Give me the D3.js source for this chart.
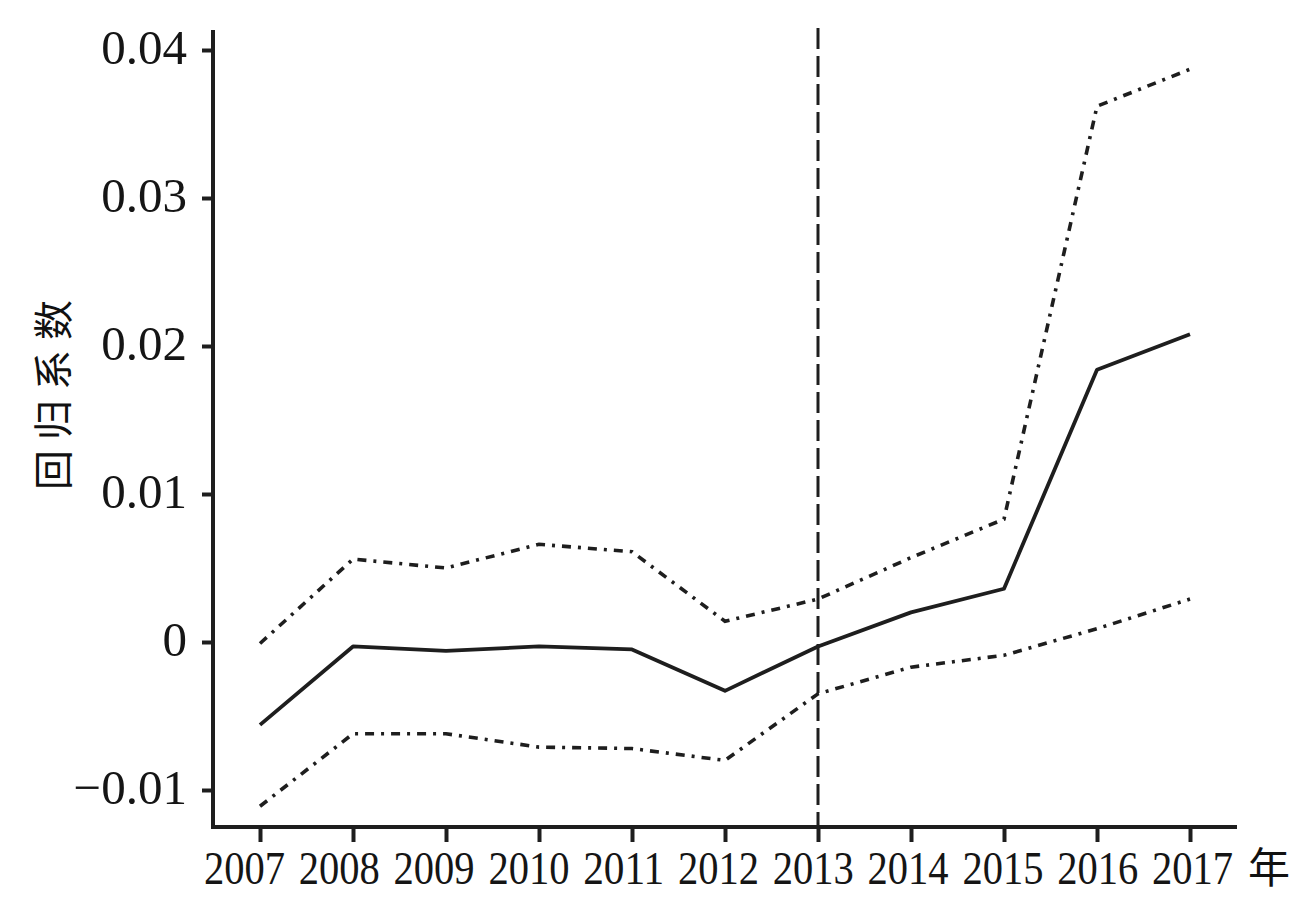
<!DOCTYPE html>
<html><head><meta charset="utf-8">
<script src="https://cdn.jsdelivr.net/npm/d3@7"></script>
<style>
html,body{margin:0;padding:0;background:#fff;}
svg{display:block;}
</style></head>
<body>
<svg id="chart" width="1302" height="907"></svg>
<script>
const years = [2007,2008,2009,2010,2011,2012,2013,2014,2015,2016,2017];
const coef  = [-0.0056,-0.0003,-0.0006,-0.0003,-0.0005,-0.0033,-0.0003,0.0020,0.0036,0.0184,0.0208];
const upper = [-0.0001,0.0056,0.0050,0.0066,0.0061,0.0014,0.0029,0.0057,0.0083,0.0362,0.0387];
const lower = [-0.0111,-0.0062,-0.0062,-0.0071,-0.0072,-0.0080,-0.0035,-0.0017,-0.0009,0.0009,0.0029];
const yTicks = [-0.01,0,0.01,0.02,0.03,0.04];
const yTickLabels = ["\u22120.01","0","0.01","0.02","0.03","0.04"];
const markYear = 2013;
const yLabel = "回归系数";
const xUnit = "年";

(function(){
const svg = d3.select("#chart");
const ink = "#1e1e1e";
const mLeft = 213, mBottom = 827, mTop = 30, mRight = 1237;

const x = d3.scaleLinear().domain([2007,2017]).range([260,1190]);
// tick labels in the original are spread slightly wider than the ticks
const xLab = d3.scaleLinear().domain([2007,2017]).range([244,1192]);
const y = d3.scaleLinear().domain([-0.01,0.04]).range([790,50]);

// axes
const yAxis = d3.axisLeft(y).tickValues(yTicks)
  .tickFormat((d,i)=>yTickLabels[i]).tickSize(11).tickPadding(15);
const gy = svg.append("g").attr("transform",`translate(${mLeft},0)`).call(yAxis);
gy.select(".domain").remove();
gy.selectAll(".tick line").attr("stroke",ink).attr("stroke-width",4);
gy.selectAll(".tick text").attr("fill","#151515")
  .style("font-family","'Liberation Serif','DejaVu Serif',serif")
  .style("font-size","49px").attr("dy","0.27em");

const xAxis = d3.axisBottom(x).tickValues(years).tickFormat(d3.format("d"))
  .tickSize(15).tickPadding(6);
const gx = svg.append("g").attr("transform",`translate(0,${mBottom})`).call(xAxis);
gx.select(".domain").remove();
gx.selectAll(".tick line").attr("stroke",ink).attr("stroke-width",4);
gx.selectAll(".tick text").attr("fill","#151515")
  .style("font-family","'Liberation Serif','DejaVu Serif',serif")
  .style("font-size","46px").attr("y",57).attr("dy","0")
  .attr("x",d=>xLab(d)-x(d))
  .attr("textLength",81).attr("lengthAdjust","spacingAndGlyphs");

// axis lines
svg.append("line").attr("x1",mLeft).attr("x2",mLeft).attr("y1",mTop).attr("y2",mBottom+2)
  .attr("stroke",ink).attr("stroke-width",4);
svg.append("line").attr("x1",mLeft-2).attr("x2",mRight).attr("y1",mBottom).attr("y2",mBottom)
  .attr("stroke",ink).attr("stroke-width",4);

// vertical dashed line
svg.append("line").attr("x1",x(markYear)).attr("x2",x(markYear))
  .attr("y1",mTop-2).attr("y2",mBottom)
  .attr("stroke",ink).attr("stroke-width",3).attr("stroke-dasharray","21,7");

const line = d3.line().x((d,i)=>x(years[i])).y(d=>y(d));
svg.append("path").datum(upper).attr("d",line).attr("fill","none")
  .attr("stroke",ink).attr("stroke-width",3.6).attr("stroke-dasharray","9,7,3,7");
svg.append("path").datum(lower).attr("d",line).attr("fill","none")
  .attr("stroke",ink).attr("stroke-width",3.6).attr("stroke-dasharray","9,7,3,7");
svg.append("path").datum(coef).attr("d",line).attr("fill","none")
  .attr("stroke",ink).attr("stroke-width",3.8).attr("stroke-linejoin","round");

// labels
svg.append("text").attr("transform","translate(68,390) rotate(-90)")
  .attr("text-anchor","middle")
  .style("font-family","'Noto Sans CJK SC',sans-serif").style("font-size","40px")
  .style("letter-spacing","10px").attr("fill","#111").text(yLabel);
svg.append("text").attr("x",1269).attr("y",883).attr("text-anchor","middle")
  .style("font-family","'Noto Sans CJK SC',sans-serif").style("font-size","42px")
  .attr("fill","#111").text(xUnit);
})();
</script>
</body></html>
